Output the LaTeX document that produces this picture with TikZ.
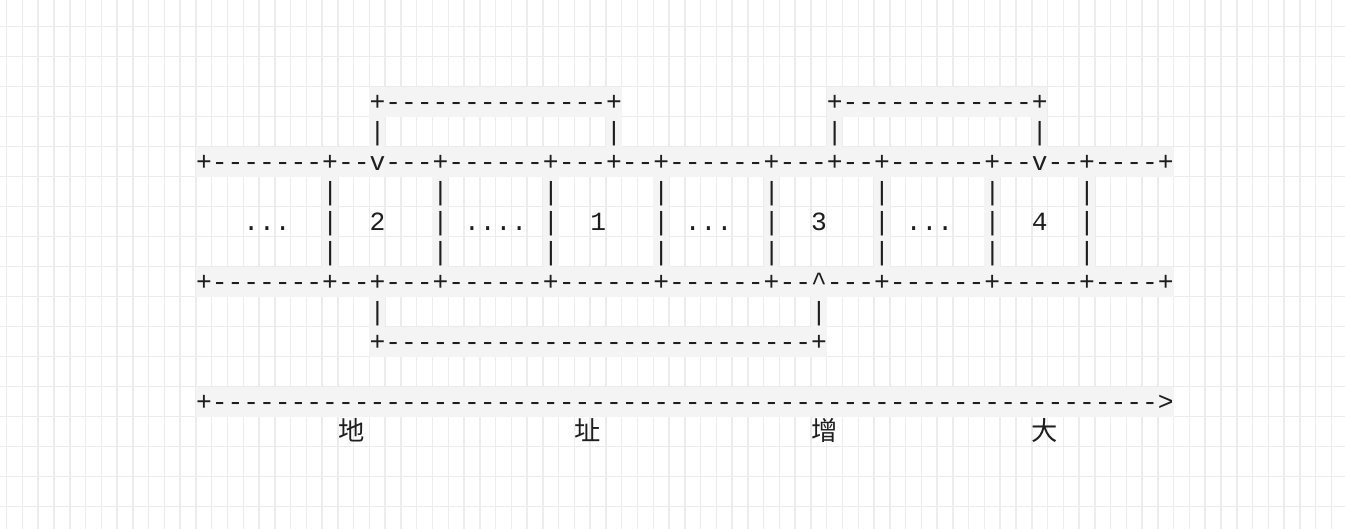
\documentclass[tikz,border=0pt]{standalone}
\usepackage{fontspec}
\usepackage{xcolor}
\usepackage{tikz}
\setmonofont{Liberation Mono}
\newfontfamily\cjkfont{Noto Sans CJK SC}
\definecolor{gridline}{RGB}{236,236,236}
\definecolor{cellfill}{RGB}{244,244,244}
\definecolor{ink}{RGB}{30,30,30}
% n copies of a character
\newcommand{\rep}[2]{\ifnum#1>0 #2\rep{\the\numexpr#1-1\relax}{#2}\fi}
% text run starting at column #2 of row #3
\newcommand{\asc}[4]{%
  \node[asc] (#1) at ({195.9+15.77*#2},{110.7+30*#3}) {#4};
}
% shaded cells, columns #1 to #2 of row #3
\newcommand{\lit}[3]{%
  \fill[cellfill] ({195.9+15.77*#1},{86.7+30*#3}) rectangle ({195.9+15.77*(#2+1)},{116.7+30*#3});
}

\begin{document}
\begin{tikzpicture}[x=1pt,y=-1pt,
  asc/.style={font=\ttfamily\fontsize{26.28}{30}\selectfont,text=ink,inner sep=0pt,anchor=base west},
  cjk/.style={font=\cjkfont\fontsize{26.28}{30}\selectfont,text=ink,inner sep=0pt,anchor=base west}]
\useasboundingbox (0,0) rectangle (1345,529);
\fill[white] (0,0) rectangle (1345,529);
% grid
\foreach \k in {0,...,84}
  \draw[gridline,line width=1.5pt] ({6.7+15.77*\k},0) -- ({6.7+15.77*\k},529);
\foreach \k in {0,...,16}
  \draw[gridline,line width=1.5pt] (0,{26.7+30*\k}) -- (1345,{26.7+30*\k});
% shaded cells under the line art
\lit{11}{26}{0}
\lit{40}{53}{0}
\foreach \c in {11,26,40,53} {\lit{\c}{\c}{1}}
\lit{0}{61}{2}
\foreach \r in {3,4,5}
  \foreach \c in {8,15,22,29,36,43,50,56} {\lit{\c}{\c}{\r}}
\lit{0}{61}{6}
\lit{11}{11}{7}
\lit{39}{39}{7}
\lit{11}{39}{8}
\lit{0}{61}{10}
% links above the blocks
\asc{linkA}{11}{0}{+\rep{14}{-}+}
\asc{linkB}{40}{0}{+\rep{12}{-}+}
\asc{linkAl}{11}{1}{|}
\asc{linkAr}{26}{1}{|}
\asc{linkBl}{40}{1}{|}
\asc{linkBr}{53}{1}{|}
% blocks
\asc{busTop}{0}{2}{+-------+--v---+------+---+--+------+---+--+------+--v--+----+}
\foreach \r in {3,4,5}
  \foreach \c in {8,15,22,29,36,43,50,56}
    \node[asc] (wall-\c-\r) at ({195.9+15.77*\c},{110.7+30*\r}) {|};
\asc{gapA}{3}{4}{...}
\asc{blkB}{11}{4}{2}
\asc{gapB}{17}{4}{....}
\asc{blkA}{25}{4}{1}
\asc{gapC}{31}{4}{...}
\asc{blkC}{39}{4}{3}
\asc{gapD}{45}{4}{...}
\asc{blkD}{53}{4}{4}
\asc{busBot}{0}{6}{+-------+--+---+------+------+------+--\textasciicircum---+------+-----+----+}
% link below the blocks
\asc{linkCl}{11}{7}{|}
\asc{linkCr}{39}{7}{|}
\asc{linkC}{11}{8}{+\rep{27}{-}+}
% address axis
\asc{axis}{0}{10}{+\rep{60}{-}>}
\node[cjk] (lblA) at ({195.9+15.77*9},{110.7+30*11}) {地};
\node[cjk] (lblB) at ({195.9+15.77*24},{110.7+30*11}) {址};
\node[cjk] (lblC) at ({195.9+15.77*39},{110.7+30*11}) {增};
\node[cjk] (lblD) at ({195.9+15.77*53},{110.7+30*11}) {大};
\end{tikzpicture}
\end{document}
